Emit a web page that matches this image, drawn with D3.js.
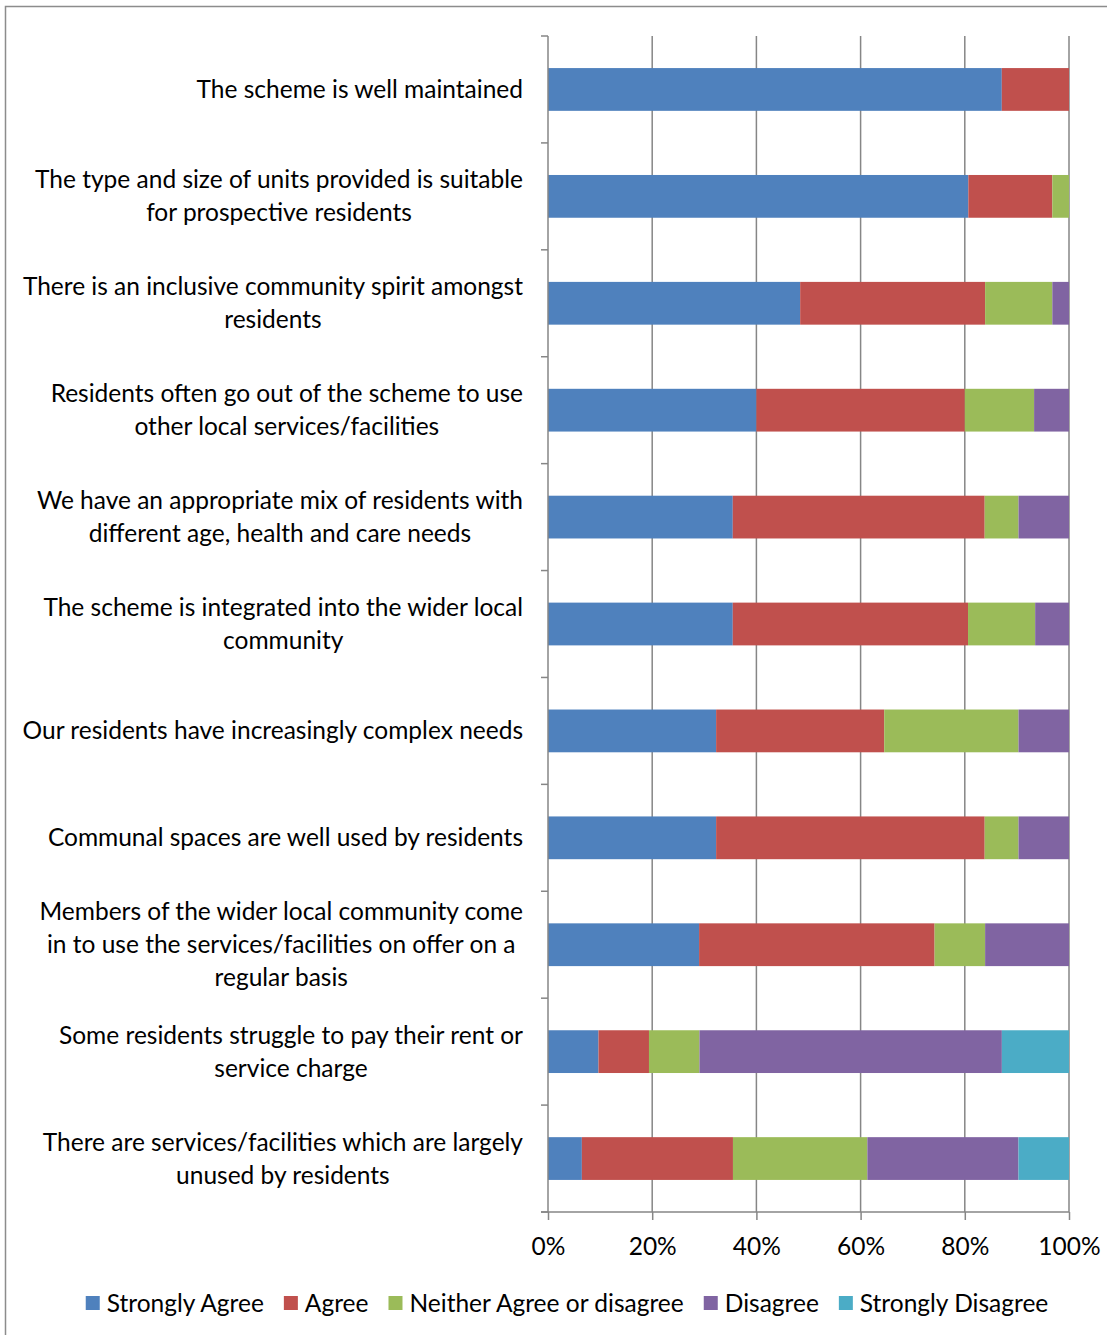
<!DOCTYPE html>
<html lang="en">
<head>
<meta charset="utf-8">
<title>Scheme survey</title>
<script src="https://d3js.org/d3.v7.min.js"></script>
<style>
  body { margin: 0; background: #fff; }
  text { font-family: Lato, "Open Sans", sans-serif; fill: #000; }
</style>
</head>
<body>
<div id="vis"></div>
<script>
/////////////////// Data //////////////
var statements = [
  ["The scheme is well maintained"],
  ["The type and size of units provided is suitable", "for prospective residents"],
  ["There is an inclusive community spirit amongst", "residents"],
  ["Residents often go out of the scheme to use", "other local services/facilities"],
  ["We have an appropriate mix of residents with", "different age, health and care needs"],
  ["The scheme is integrated into the wider local", "community"],
  ["Our residents have increasingly complex needs"],
  ["Communal spaces are well used by residents"],
  ["Members of the wider local community come", "in to use the services/facilities on offer on a", "regular basis"],
  ["Some residents struggle to pay their rent or", "service charge"],
  ["There are services/facilities which are largely", "unused by residents"]
];
var responses = ["Strongly Agree", "Agree", "Neither Agree or disagree", "Disagree", "Strongly Disagree"];

// percentages per statement, same order as statements
var stronglyAgree = [87.1, 80.6, 48.4, 40.0, 35.5, 35.5, 32.3, 32.3, 29.0, 9.7, 6.5];
var agree         = [12.9, 16.1, 35.5, 40.0, 48.4, 45.2, 32.3, 51.6, 45.2, 9.7, 29.0];
var neither       = [0, 3.2, 12.9, 13.3, 6.5, 12.9, 25.8, 6.5, 9.7, 9.7, 25.8];
var disagree      = [0, 0, 3.2, 6.7, 9.7, 6.5, 9.7, 9.7, 16.1, 58.1, 29.0];
var stronglyDis   = [0, 0, 0, 0, 0, 0, 0, 0, 0, 12.9, 9.7];

var tickLabels = ["0%", "20%", "40%", "60%", "80%", "100%"];
var colors = ["#4F81BD", "#C0504D", "#9BBB59", "#8064A2", "#4BACC6"];

/////////////////// Layout //////////////
var width = 1107, height = 1335;
var plot = {left: 548, right: 1069, top: 36, bottom: 1212};
var fontSize = "24.5px";

var svg = d3.select("#vis").append("svg")
    .attr("width", width)
    .attr("height", height);

// outer frame
svg.append("rect")
    .attr("x", 5.5).attr("y", 6.5)
    .attr("width", 1200).attr("height", 1400)
    .style("fill", "none")
    .style("stroke", "#8c8c8c")
    .style("stroke-width", 1.5);

var rows = statements.map(function(s, i) {
  return {
    idx: i,
    "Strongly Agree": stronglyAgree[i],
    "Agree": agree[i],
    "Neither Agree or disagree": neither[i],
    "Disagree": disagree[i],
    "Strongly Disagree": stronglyDis[i]
  };
});

var stack = d3.stack().keys(responses).offset(d3.stackOffsetExpand);
var series = stack(rows);

var x = d3.scaleLinear().domain([0, 1]).range([plot.left, plot.right]);
var y = d3.scaleBand()
    .domain(d3.range(statements.length))
    .range([plot.top, plot.bottom])
    .paddingInner(0.6)
    .paddingOuter(0.3);

var axisColor = "#868686";

// gridlines
svg.append("g").selectAll("line")
    .data(x.ticks(5).slice(1))
    .enter().append("line")
    .attr("x1", function(d) { return x(d); })
    .attr("x2", function(d) { return x(d); })
    .attr("y1", plot.top)
    .attr("y2", plot.bottom)
    .style("stroke", axisColor)
    .style("stroke-width", 1.5);

// bars
svg.append("g").selectAll("g")
    .data(series)
    .enter().append("g")
    .style("fill", function(d, i) { return colors[i]; })
    .selectAll("rect")
    .data(function(d) { return d; })
    .enter().append("rect")
    .attr("x", function(d) { return x(d[0]); })
    .attr("width", function(d) { return x(d[1]) - x(d[0]); })
    .attr("y", function(d) { return y(d.data.idx); })
    .attr("height", y.bandwidth());

// y axis line and ticks at category boundaries
var step = (plot.bottom - plot.top) / statements.length;
svg.append("line")
    .attr("x1", plot.left).attr("x2", plot.left)
    .attr("y1", plot.top).attr("y2", plot.bottom)
    .style("stroke", axisColor).style("stroke-width", 1.5);
svg.append("g").selectAll("line")
    .data(d3.range(statements.length + 1))
    .enter().append("line")
    .attr("x1", plot.left - 7).attr("x2", plot.left)
    .attr("y1", function(d) { return plot.top + d * step; })
    .attr("y2", function(d) { return plot.top + d * step; })
    .style("stroke", axisColor).style("stroke-width", 1.5);

// x axis
var xAxis = d3.axisBottom(x)
    .tickValues(x.ticks(5))
    .tickSize(8)
    .tickFormat(function(d, i) { return tickLabels[i]; });
var gx = svg.append("g")
    .attr("transform", "translate(0," + plot.bottom + ")")
    .call(xAxis);
gx.select(".domain").attr("d", "M" + (plot.left - 7) + ",0H" + plot.right)
    .style("stroke", axisColor).style("stroke-width", 1.5);
gx.selectAll(".tick line").style("stroke", axisColor).style("stroke-width", 1.5);
gx.selectAll(".tick text")
    .attr("y", 35)
    .attr("dy", "0.32em")
    .style("font-family", "Lato, sans-serif")
    .style("font-size", fontSize)
    .style("fill", "#000");

// category labels: block right-aligned at 523, lines centered within block
var lineH = 33;
var labels = svg.append("g").selectAll("text")
    .data(statements)
    .enter().append("text")
    .attr("text-anchor", "middle")
    .style("font-size", fontSize)
    .attr("transform", function(d, i) {
      return "translate(0," + (y(i) + y.bandwidth() / 2) + ")";
    });
labels.selectAll("tspan")
    .data(function(d) {
      return d.map(function(t, j) { return {t: t, off: (j - (d.length - 1) / 2) * lineH}; });
    })
    .enter().append("tspan")
    .attr("y", function(d) { return d.off; })
    .attr("dy", "0.35em")
    .text(function(d) { return d.t; });
labels.each(function() {
  var maxW = 0;
  d3.select(this).selectAll("tspan").each(function() {
    maxW = Math.max(maxW, this.getComputedTextLength());
  });
  d3.select(this).selectAll("tspan").attr("x", 523 - maxW / 2);
});

// legend
var legend = svg.append("g").attr("transform", "translate(0,1303)");
var items = legend.selectAll("g")
    .data(responses)
    .enter().append("g");
items.append("rect")
    .attr("width", 14).attr("height", 14)
    .attr("y", -7)
    .style("fill", function(d, i) { return colors[i]; });
items.append("text")
    .attr("x", 21)
    .attr("dy", "0.35em")
    .style("font-size", fontSize)
    .text(function(d) { return d; });

var pos = 0, offsets = [];
items.each(function() {
  offsets.push(pos);
  pos += 21 + d3.select(this).select("text").node().getComputedTextLength() + 20;
});
var total = pos - 20;
var start = 567 - total / 2;
items.attr("transform", function(d, i) { return "translate(" + (start + offsets[i]) + ",0)"; });
</script>
</body>
</html>
